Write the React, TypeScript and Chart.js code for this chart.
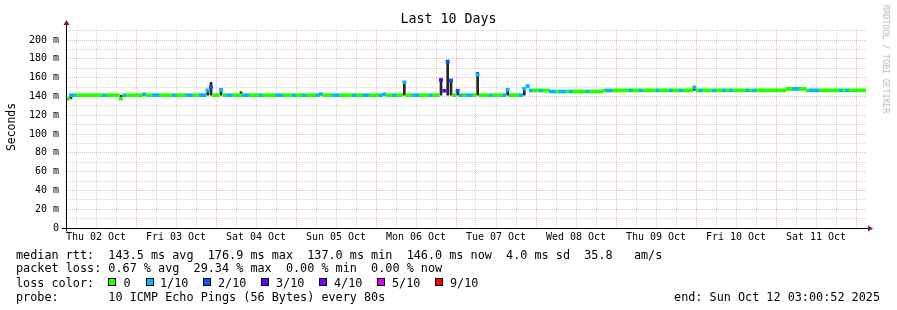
import React, { useEffect, useRef } from 'react';
import { Chart, registerables } from 'chart.js';

Chart.register(...registerables);

// ---- data ----
const chartTitle = 'Last 10 Days';
const yAxisTitle = 'Seconds';
const watermark = 'RRDTOOL / TOBI OETIKER';

const dayLabels = ['Thu 02 Oct', 'Fri 03 Oct', 'Sat 04 Oct', 'Sun 05 Oct', 'Mon 06 Oct', 'Tue 07 Oct', 'Wed 08 Oct', 'Thu 09 Oct', 'Fri 10 Oct', 'Sat 11 Oct'];
// hours since start (Oct 02 03:00); ticks every 6h (06,12,18,00)
const xTickHours = [3, 9, 15, 21, 27, 33, 39, 45, 51, 57, 63, 69, 75, 81, 87, 93, 99, 105, 111, 117, 123, 129, 135, 141, 147, 153, 159, 165, 171, 177, 183, 189, 195, 201, 207, 213, 219, 225, 231, 237];
const yTickValues = [0, 10, 20, 30, 40, 50, 60, 70, 80, 90, 100, 110, 120, 130, 140, 150, 160, 170, 180, 190, 200, 210];

// median RTT (ms), one value per hour
const medianMs = [
  137.5, 141.3, 141.3, 141.3, 141.3, 141.3, 141.3, 141.3, 141.3, 141.3, 141.3, 141.3, 141.3, 141.3, 141.3, 141.3, 137.6, 141.3, 141.3, 141.3, 141.3, 141.3, 141.3, 142.3,
  141.3, 141.3, 141.3, 141.3, 141.3, 141.3, 141.3, 141.3, 141.3, 141.3, 141.3, 141.3, 141.3, 141.3, 141.3, 141.3, 141.3, 141.3, 146.5, 150.0, 141.3, 141.3, 147.0, 141.3,
  141.3, 141.3, 141.3, 141.3, 141.3, 141.3, 141.3, 141.3, 141.3, 141.3, 141.3, 141.3, 141.3, 141.3, 141.3, 141.3, 141.3, 141.3, 141.3, 141.3, 141.3, 141.3, 141.3, 141.3,
  141.3, 141.3, 141.3, 141.3, 142.5, 141.3, 141.3, 141.3, 141.3, 141.3, 141.3, 141.3, 141.3, 141.3, 141.3, 141.3, 141.3, 141.3, 141.3, 141.3, 141.3, 141.3, 141.3, 142.3,
  141.3, 141.3, 141.3, 141.3, 141.3, 155.0, 141.3, 141.3, 141.3, 141.3, 141.3, 141.3, 141.3, 141.3, 141.3, 141.3, 157.5, 146.0, 177.0, 157.0, 141.3, 146.0, 141.3, 141.3,
  141.3, 141.3, 141.3, 163.0, 141.3, 141.3, 141.3, 141.3, 141.3, 141.3, 141.3, 141.3, 147.0, 141.3, 141.3, 141.3, 141.3, 148.0, 151.0, 146.3, 146.3, 146.3, 146.3, 146.3,
  146.3, 145.2, 145.2, 145.2, 145.2, 145.2, 145.2, 145.2, 145.2, 145.2, 145.2, 145.2, 145.2, 145.2, 145.2, 145.2, 145.2, 146.3, 146.3, 146.3, 146.3, 146.3, 146.3, 146.3,
  146.4, 146.4, 146.4, 146.4, 146.4, 146.4, 146.4, 146.4, 146.4, 146.4, 146.4, 146.4, 146.4, 146.4, 146.4, 146.4, 146.4, 146.4, 146.4, 146.4, 149.5, 146.4, 146.4, 146.4,
  146.4, 146.4, 146.4, 146.4, 146.4, 146.4, 146.4, 146.4, 146.4, 146.4, 146.4, 146.4, 146.4, 146.4, 146.4, 146.4, 146.4, 146.4, 146.4, 146.4, 146.4, 146.4, 146.4, 146.4,
  148.0, 148.0, 148.0, 148.0, 148.0, 148.0, 146.4, 146.4, 146.4, 146.4, 146.4, 146.4, 146.4, 146.4, 146.4, 146.4, 146.4, 146.4, 146.4, 146.4, 146.4, 146.4, 146.4, 146.4,
];

// lost pings out of 10, one value per hour
const lossTenths = [
  0, 1, 1, 0, 0, 0, 0, 0, 0, 0, 0, 1, 0, 0, 0, 0, 0, 1, 0, 0, 0, 0, 0, 1,
  0, 0, 1, 1, 0, 0, 0, 0, 1, 0, 0, 0, 1, 1, 0, 0, 1, 1, 1, 2, 0, 0, 1, 0,
  1, 1, 0, 0, 0, 1, 1, 0, 0, 0, 1, 0, 0, 0, 0, 1, 1, 0, 0, 0, 1, 0, 0, 1,
  0, 0, 0, 1, 1, 0, 0, 0, 1, 1, 0, 0, 0, 0, 1, 0, 0, 1, 1, 0, 0, 0, 1, 1,
  0, 0, 1, 0, 0, 1, 0, 0, 1, 1, 0, 0, 0, 1, 0, 0, 3, 3, 2, 2, 0, 2, 1, 0,
  1, 1, 0, 1, 0, 0, 0, 1, 0, 0, 0, 1, 1, 0, 0, 0, 1, 1, 1, 1, 0, 0, 1, 0,
  0, 1, 1, 0, 1, 1, 0, 1, 0, 0, 0, 0, 1, 0, 0, 0, 0, 0, 1, 1, 0, 0, 0, 0,
  0, 1, 0, 0, 1, 0, 0, 0, 0, 1, 0, 0, 0, 1, 0, 0, 1, 0, 0, 0, 1, 0, 1, 0,
  0, 0, 1, 0, 0, 1, 0, 1, 0, 0, 0, 0, 1, 0, 1, 0, 0, 0, 0, 0, 0, 0, 0, 0,
  0, 0, 1, 1, 0, 0, 0, 1, 1, 1, 0, 0, 0, 0, 0, 0, 1, 0, 1, 0, 0, 0, 0, 0,
];

// smoke (spread of pings) where visible
const smokeHours = [1, 16, 42, 43, 46, 52, 101, 112, 114, 115, 117, 123, 132, 137, 188];
const smokeLowMs = [137.5, 137.6, 141.3, 141.3, 141.3, 141.3, 141.3, 141.3, 141.3, 141.3, 141.3, 141.3, 141.3, 141.3, 146.4];
const smokeHighMs = [141.3, 141.3, 146.5, 155.0, 147.0, 145.0, 155.0, 157.5, 178.5, 157.0, 146.0, 165.5, 147.0, 148.0, 149.5];

const lossLegendKeys = [0, 1, 2, 3, 4, 5, 9];
const lossLegendLabels = ['0', '1/10', '2/10', '3/10', '4/10', '5/10', '9/10'];
const lossColorHex = ['#26ff00', '#00b8ff', '#0059ff', '#5e00ff', '#7e00ff', '#dd00ff', '#ff0000'];

const statLine1 = 'median rtt:  143.5 ms avg  176.9 ms max  137.0 ms min  146.0 ms now  4.0 ms sd  35.8   am/s';
const statLine2 = 'packet loss: 0.67 % avg  29.34 % max  0.00 % min  0.00 % now';
const statLine3 = 'loss color:';
const statLine4 = 'probe:       10 ICMP Echo Pings (56 Bytes) every 80s';
const endLabel = 'end: Sun Oct 12 03:00:52 2025';

// ---- layout / style ----
const W = 897;
const H = 310;
const MONO = "'DejaVu Sans Mono', monospace";
const MAJOR_GRID = 'rgba(225,100,100,0.45)';
const MINOR_GRID = 'rgba(150,150,150,0.4)';
const legendBoxX = [108, 145.5, 203, 261, 319, 377, 435];
const legendTextX = [123.5, 160, 218, 276, 334, 392, 450];

function colorForLoss(l: number): string {
  const k = lossLegendKeys.indexOf(l);
  return k >= 0 ? lossColorHex[k] : '#ff0000';
}

const axisArrows = {
  id: 'axisArrows',
  afterDraw(chart: any) {
    const { ctx, chartArea: a, scales } = chart;
    const y0 = Math.round(scales.y.getPixelForValue(0) - 0.5) + 0.5;
    const x0 = a.left + 0.5;
    ctx.save();
    ctx.setLineDash([]);
    ctx.strokeStyle = '#000';
    ctx.lineWidth = 1;
    ctx.beginPath();
    ctx.moveTo(a.left - 4, y0);
    ctx.lineTo(a.right + 3, y0);
    ctx.stroke();
    ctx.beginPath();
    ctx.moveTo(x0, y0 + 3);
    ctx.lineTo(x0, a.top - 3);
    ctx.stroke();
    ctx.fillStyle = '#7f1f1f';
    ctx.beginPath();
    ctx.moveTo(a.right + 2, y0 - 3);
    ctx.lineTo(a.right + 7, y0);
    ctx.lineTo(a.right + 2, y0 + 3);
    ctx.closePath();
    ctx.fill();
    ctx.beginPath();
    ctx.moveTo(x0 - 3, a.top - 3);
    ctx.lineTo(x0, a.top - 8);
    ctx.lineTo(x0 + 3, a.top - 3);
    ctx.closePath();
    ctx.fill();
    ctx.restore();
  },
};

export default function App() {
  const canvasRef = useRef<HTMLCanvasElement | null>(null);

  useEffect(() => {
    if (!canvasRef.current) return;
    const chart = new Chart(canvasRef.current, {
      type: 'bar',
      data: {
        datasets: [
          {
            label: 'median',
            data: medianMs.map((v, i) => ({ x: i + 0.5, y: [v - 1.6, v + 1.6] })) as any,
            backgroundColor: lossTenths.map((l) => colorForLoss(l)),
            borderWidth: 0,
            barPercentage: 1,
            categoryPercentage: 1,
            grouped: false,
            order: 0,
          } as any,
          {
            label: 'smoke',
            data: smokeHours.map((h, k) => ({ x: h + 0.5, y: [smokeLowMs[k], smokeHighMs[k]] })) as any,
            backgroundColor: '#262626',
            borderWidth: 0,
            barThickness: 2,
            grouped: false,
            order: 1,
          } as any,
        ],
      },
      options: {
        animation: false,
        responsive: false,
        maintainAspectRatio: false,
        events: [],
        layout: { padding: { left: 0, top: 28, right: W - 866, bottom: H - 228 - 20 } },
        plugins: {
          legend: { display: false },
          title: { display: false },
          tooltip: { enabled: false },
        },
        scales: {
          x: {
            type: 'linear',
            min: 0,
            max: 240,
            offset: false,
            afterBuildTicks: (s: any) => {
              s.ticks = xTickHours.map((v) => ({ value: v }));
            },
            afterFit: (s: any) => {
              s.height = 20;
            },
            grid: {
              offset: false,
              drawTicks: false,
              lineWidth: 1,
              color: (c: any) => {
                const v = c.tick ? c.tick.value : 0;
                return (v - 21) % 24 === 0 ? MAJOR_GRID : MINOR_GRID;
              },
            },
            border: { display: false, dash: [1, 1] },
            ticks: {
              autoSkip: false,
              maxRotation: 0,
              minRotation: 0,
              padding: 3,
              color: '#000',
              font: { family: MONO, size: 10 },
              callback: (value: any) => {
                const v = Number(value);
                return (v - 9) % 24 === 0 ? dayLabels[(v - 9) / 24] : '';
              },
            },
          },
          y: {
            type: 'linear',
            min: 0,
            max: 200 / 0.94,
            afterBuildTicks: (s: any) => {
              s.ticks = yTickValues.map((v) => ({ value: v }));
            },
            afterFit: (s: any) => {
              s.width = 66;
            },
            grid: {
              drawTicks: false,
              lineWidth: 1,
              color: (c: any) => {
                const v = c.tick ? c.tick.value : 0;
                return v % 20 === 0 ? MAJOR_GRID : MINOR_GRID;
              },
            },
            border: { display: false, dash: [1, 1] },
            ticks: {
              autoSkip: false,
              padding: 7,
              color: '#000',
              font: { family: MONO, size: 10 },
              callback: (value: any) => {
                const v = Number(value);
                if (v % 20 !== 0) return '';
                return v === 0 ? '0' : `${v} m`;
              },
            },
          },
        },
      } as any,
      plugins: [axisArrows],
    });
    return () => chart.destroy();
  }, []);

  const textStyle: React.CSSProperties = {
    position: 'absolute',
    fontFamily: MONO,
    fontSize: '11.8px',
    lineHeight: '14px',
    whiteSpace: 'pre',
    color: '#000',
  };

  return (
    <div style={{ position: 'fixed', left: 0, top: 0, width: W, height: H, background: '#fff', overflow: 'hidden' }}>
      <canvas ref={canvasRef} width={W} height={H} style={{ position: 'absolute', left: 0, top: 0, width: W, height: H }} />
      <div style={{ position: 'absolute', left: 0, top: 11, width: W, textAlign: 'center', fontFamily: MONO, fontSize: '13.3px', lineHeight: '16px', color: '#000' }}>
        {chartTitle}
      </div>
      <div style={{ position: 'absolute', left: 11, top: 127, transform: 'translate(-50%, -50%) rotate(-90deg)', fontFamily: MONO, fontSize: '11.4px', lineHeight: '14px', whiteSpace: 'pre', color: '#000' }}>
        {yAxisTitle}
      </div>
      <div style={{ position: 'absolute', left: 886, top: 59, transform: 'translate(-50%, -50%) rotate(90deg)', fontFamily: MONO, fontSize: '8.2px', lineHeight: '10px', whiteSpace: 'pre', color: '#b8b8b8' }}>
        {watermark}
      </div>
      <div style={{ ...textStyle, left: 16, top: 247.5 }}>{statLine1}</div>
      <div style={{ ...textStyle, left: 16, top: 261 }}>{statLine2}</div>
      <div style={{ ...textStyle, left: 16, top: 275.5 }}>{statLine3}</div>
      {lossLegendLabels.map((lab, k) => (
        <React.Fragment key={lab}>
          <div style={{ position: 'absolute', left: legendBoxX[k], top: 278, width: 8, height: 8, boxSizing: 'border-box', border: '1px solid #000', background: lossColorHex[k] }} />
          <div style={{ ...textStyle, left: legendTextX[k], top: 275.5 }}>{lab}</div>
        </React.Fragment>
      ))}
      <div style={{ ...textStyle, left: 16, top: 289.5 }}>{statLine4}</div>
      <div style={{ ...textStyle, right: 17, top: 289.5 }}>{endLabel}</div>
    </div>
  );
}
